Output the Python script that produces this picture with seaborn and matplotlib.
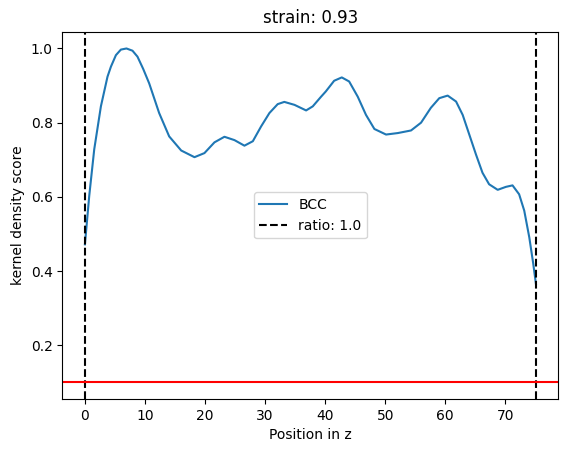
import numpy as np
import pandas as pd
import matplotlib
matplotlib.use("Agg")
import matplotlib.pyplot as plt
import seaborn as sns

# kernel density profile along z
z_pos = [0.0, 0.72, 1.55, 2.66, 3.76, 4.33, 5.16, 5.99, 6.92, 7.92,
         8.75, 9.7, 10.7, 12.36, 14.03, 16.03, 18.24, 19.9, 21.57, 23.23,
         24.9, 26.56, 27.96, 29.34, 30.72, 32.1, 33.2, 34.9, 36.83, 37.94,
         39.32, 40.1, 41.5, 42.77, 44.0, 45.43, 46.8, 48.2, 50.14, 52.1,
         54.3, 55.97, 57.6, 59.0, 60.4, 61.8, 62.9, 64.0, 65.12, 66.2,
         67.3, 68.73, 70.1, 71.2, 72.3, 73.15, 73.99, 74.65, 75.1]
kde_score = [0.472, 0.603, 0.728, 0.844, 0.924, 0.951, 0.982, 0.997, 1.0, 0.994,
             0.978, 0.945, 0.906, 0.826, 0.763, 0.725, 0.707, 0.718, 0.747, 0.762,
             0.753, 0.738, 0.75, 0.79, 0.826, 0.85, 0.856, 0.848, 0.833, 0.844,
             0.87, 0.884, 0.913, 0.922, 0.911, 0.87, 0.821, 0.783, 0.768, 0.772,
             0.779, 0.80, 0.84, 0.866, 0.873, 0.857, 0.821, 0.768, 0.714, 0.665,
             0.634, 0.619, 0.627, 0.631, 0.607, 0.563, 0.491, 0.42, 0.365]

strain = 0.93
ratio = 1.0
z_bounds = [0.0, 75.1]
threshold = 0.1

df = pd.DataFrame({"z": z_pos, "score": kde_score})

fig = plt.figure(figsize=(5.67, 4.54), dpi=100)
ax = fig.add_axes([0.110, 0.121, 0.875, 0.809])

sns.lineplot(data=df, x="z", y="score", ax=ax, color="#1f77b4", label="BCC")
for i, zb in enumerate(z_bounds):
    ax.axvline(zb, color="black", linestyle="--", label=f"ratio: {ratio}" if i == 0 else None)
ax.axhline(threshold, color="red")

ax.set_title(f"strain: {strain}")
ax.set_xlabel("Position in z")
ax.set_ylabel("kernel density score")
ax.legend(loc="center")

fig.savefig("out.png", dpi=100)
